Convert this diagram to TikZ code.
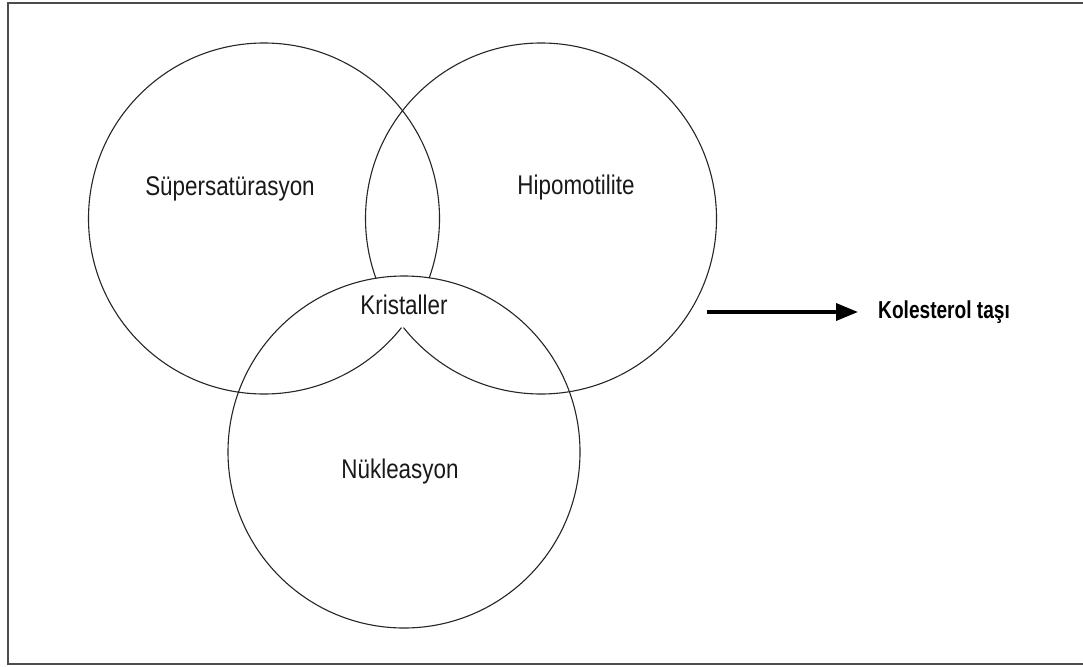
\documentclass[tikz,border=0pt]{standalone}
\usepackage{fontspec}
\setmainfont[FakeStretch=0.83]{Liberation Sans}
\newfontfamily\kolfont[FakeStretch=0.78]{Liberation Sans Bold}
\usetikzlibrary{arrows.meta}
\begin{document}
\begin{tikzpicture}[x=1pt,y=-1pt,
  circ/.style={line width=1.1pt, draw=black!85},
  lbl/.style={font=\fontsize{27}{30}\selectfont, inner sep=0pt, anchor=base, text=black!90},
  kolstyle/.style={font=\kolfont\fontsize{24.5}{28}\selectfont, inner sep=0pt, anchor=base west, text=black},
  arrowline/.style={line width=3.5pt, -{Triangle[length=22pt,width=17pt]}}]
\useasboundingbox (0,0) rectangle (1083,666);
\fill[white] (0,0) rectangle (1083,666);
% frame
\draw[line width=2pt, black!70] (1090,3) -- (7.5,3) -- (7.5,664) -- (1090,664);
% circle centres
\coordinate (cL) at (264,218.5);
\coordinate (cR) at (541,218.5);
\coordinate (cB) at (404,452);
\draw[circ] (cL) circle[radius=175.5];
\draw[circ] (cR) circle[radius=175.5];
\begin{scope}
  \clip (cL) circle[radius=177];
  \clip (cR) circle[radius=177];
  \fill[white] (cB) circle[radius=175.5];
\end{scope}
\draw[circ] (cB) circle[radius=176];
% labels
\node[lbl] (sup) at (230,195) {Süpersatürasyon};
\node[lbl] (hip) at (576,194) {Hipomotilite};
\node[lbl] (kri) at (404,314) {Kristaller};
\node[lbl] (nuk) at (400,478) {Nükleasyon};
\node[kolstyle] (kol) at (878,318) {Kolesterol taşı};
\coordinate (as) at (707,312);
\draw[arrowline, shorten >=20pt] (as) -- (as -| kol.west);
\end{tikzpicture}
\end{document}
